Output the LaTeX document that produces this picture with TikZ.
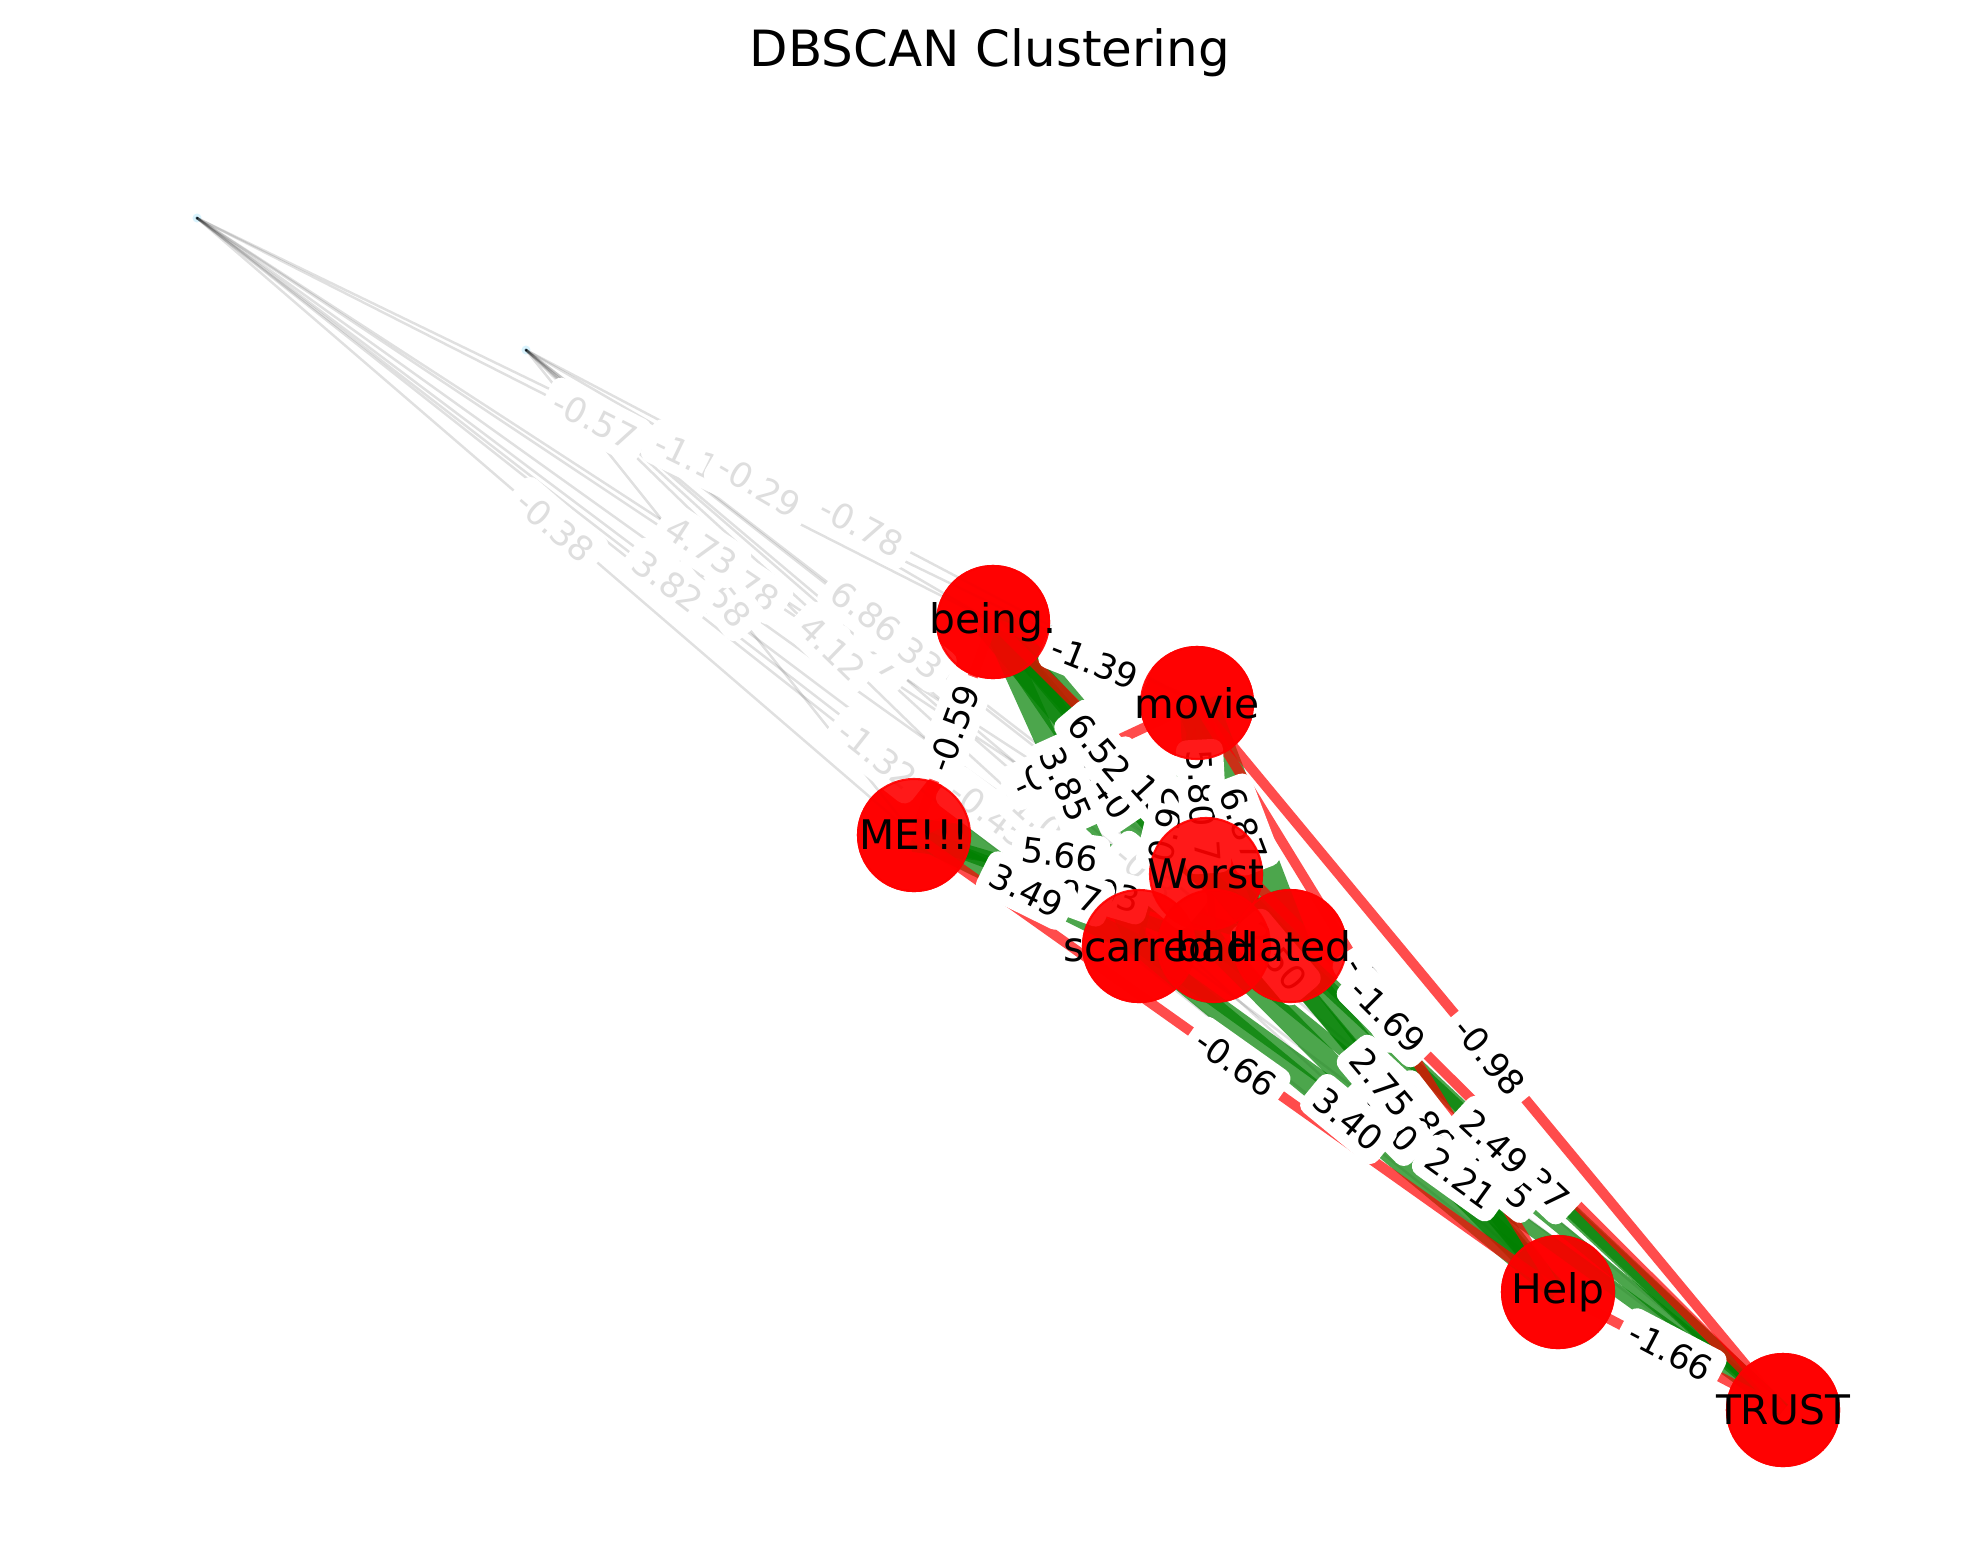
\documentclass[tikz,border=0pt]{standalone}
\usepackage{fontspec}
\setmainfont{DejaVu Sans}
\definecolor{posgreen}{RGB}{0,128,0}
\definecolor{noisedot}{RGB}{47,72,88}
\begin{document}
\begin{tikzpicture}[x=0.01cm, y=-0.01cm,
    vert/.style={circle, fill=red, fill opacity=0.9, draw=red, draw opacity=0.9, line width=0.6pt, minimum size=1.12cm, inner sep=0pt},
    vtext/.style={font=\fontsize{11.6}{13}\selectfont, inner sep=0pt},
    noise/.style={circle, fill=noisedot, draw=cyan!15, line width=0.8pt, minimum size=0.06cm, inner sep=0pt},
    poslink/.style={draw=posgreen, draw opacity=0.7, line width=1.7*#1pt},
    neglink/.style={draw=red, draw opacity=0.7, line width=2.85pt},
    greylink/.style={draw=black, draw opacity=0.12, line width=0.7pt},
    lbl/.style={midway, sloped, fill=white, rounded corners=3pt, inner sep=3pt, font=\fontsize{9.8}{11}\selectfont},
    glbl/.style={lbl, text=black!13}
]
    \useasboundingbox (0,0) rectangle (1980,1563);
    \node[font=\fontsize{14.2}{16}\selectfont] (title) at (990,53) {DBSCAN Clustering};

    % cluster words and the two noise points
    \node[vert] (being) at (993,622) {};
    \node[vert] (movie) at (1197,703) {};
    \node[vert] (me) at (914,835) {};
    \node[vert] (worst) at (1206,874) {};
    \node[vert] (scarred) at (1139,946) {};
    \node[vert] (bad) at (1214,946) {};
    \node[vert] (hated) at (1290,946) {};
    \node[vert] (help) at (1558,1292) {};
    \node[vert] (trust) at (1783,1410) {};
    \node[noise] (na) at (197,218) {};
    \node[noise] (nb) at (526,350) {};

    % edges from the noise points
    \foreach \a/\b in {na/being, na/movie, na/me, na/worst, na/scarred, na/bad, na/hated, na/help, na/trust,
                       nb/being, nb/movie, nb/me, nb/worst, nb/scarred, nb/bad, nb/hated, nb/help, nb/trust}
        \draw[greylink] (\a.center) -- (\b.center);

    % positive weights
    \foreach \a/\b/\w in {being/worst/6.52, being/scarred/3.85, being/bad/4.40, being/hated/3.13, being/help/2.50,
                          movie/worst/5.80, movie/scarred/0.92, movie/bad/1.17, movie/hated/6.87,
                          me/worst/5.66, me/scarred/3.49, me/bad/2.07, me/hated/2.03,
                          worst/help/2.75, worst/trust/2.49, scarred/help/3.40, scarred/trust/2.21,
                          bad/help/3.60, bad/trust/1.85, hated/trust/2.37, hated/help/2.86}
        \draw[poslink=\w] (\a.center) -- (\b.center);

    % negative weights
    \foreach \a/\b in {being/movie, being/me, me/movie, movie/trust, movie/help, being/trust, me/help, help/trust}
        \draw[neglink] (\a.center) -- (\b.center);

    % weight labels
    \foreach \a/\b/\t in {na/bad/4.27, na/trust/-0.45, nb/help/-1.05, nb/trust/-0.87, na/hated/3.78, nb/bad/5.27,
                          nb/hated/3.33, nb/me/4.58, na/help/-1.32, nb/scarred/4.12, nb/worst/6.86, na/scarred/3.82,
                          na/worst/4.73, na/me/-0.38, na/movie/-1.14, nb/being/-0.29, nb/movie/-0.78, na/being/-0.57}
        \path (\a.center) -- node[glbl] {\t} (\b.center);
    \foreach \a/\b/\t in {being/bad/4.40, movie/bad/1.17, hated/help/2.86, movie/help/-1.62, being/help/2.50,
                          me/hated/2.03, me/bad/2.07, being/hated/3.13, me/movie/-0.71,
                          movie/scarred/0.92, movie/worst/5.80, movie/hated/6.87, being/scarred/3.85, being/worst/6.52,
                          me/scarred/3.49, me/worst/5.66, being/me/-0.59, being/movie/-1.39,
                          hated/trust/2.37, bad/trust/1.85, bad/help/3.60, scarred/trust/2.21, worst/trust/2.49,
                          scarred/help/3.40, worst/help/2.75, me/help/-0.66, being/trust/-1.69, movie/trust/-0.98,
                          help/trust/-1.66}
        \path (\a.center) -- node[lbl] {\t} (\b.center);

    % nodes again on top, then their words
    \foreach \n in {being, movie, me, worst, scarred, bad, hated, help, trust}
        \node[vert] at (\n) {};
    \foreach \n/\t in {being/being., movie/movie, me/ME!!!, worst/Worst, scarred/scarred, bad/bad, hated/Hated, help/Help, trust/TRUST}
        \node[vtext] (\n-t) at (\n) {\t};
\end{tikzpicture}
\end{document}
